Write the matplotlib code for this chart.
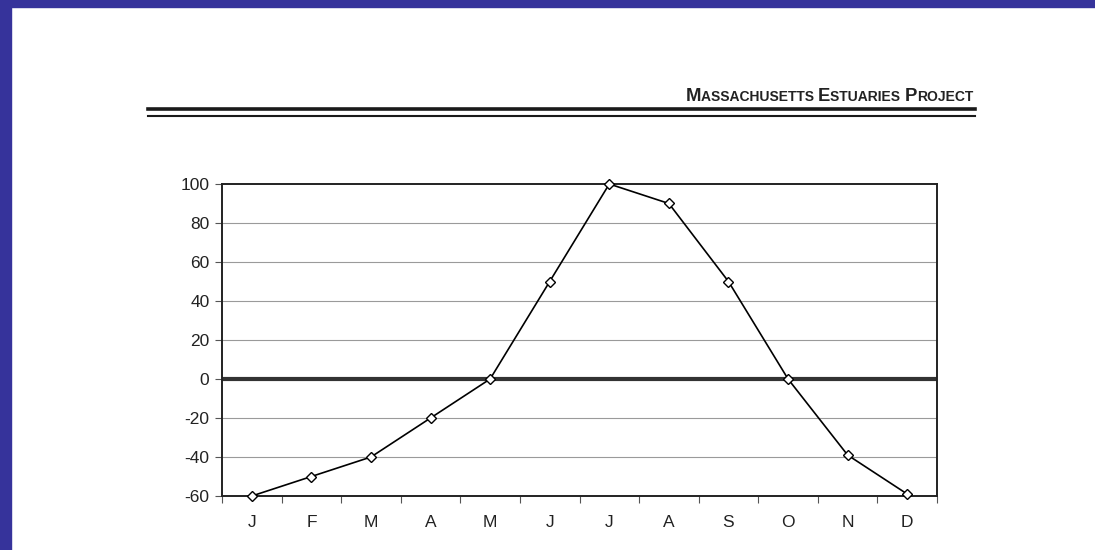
import matplotlib
matplotlib.use("Agg")
from matplotlib import pyplot as plt
from matplotlib.patches import Rectangle
from matplotlib.lines import Line2D
import numpy as np

months = ['J', 'F', 'M', 'A', 'M', 'J', 'J', 'A', 'S', 'O', 'N', 'D']
values = [-60, -50, -40, -20, 0, 50, 100, 90, 50, 0, -39, -59]
yticks = [-60, -40, -20, 0, 20, 40, 60, 80, 100]
header = [('M', 13.3), ('ASSACHUSETTS ', 10), ('E', 13.3), ('STUARIES ', 10), ('P', 13.3), ('ROJECT', 10)]

W, H = 1095, 550
fig = plt.figure(figsize=(W / 100, H / 100), dpi=100)
fig.patch.set_facecolor('white')

# blue border of the scan
fig.add_artist(Rectangle((0, 0), 11 / W, 1, transform=fig.transFigure, color='#36339b', zorder=10))
fig.add_artist(Rectangle((0, 1 - 7 / H), 1, 7 / H, transform=fig.transFigure, color='#36339b', zorder=10))

# header rules
fig.add_artist(Line2D([148 / W, 975 / W], [1 - 108.5 / H] * 2, transform=fig.transFigure, color='#1a1a1a', lw=2.6))
fig.add_artist(Line2D([148 / W, 975 / W], [1 - 116 / H] * 2, transform=fig.transFigure, color='#1a1a1a', lw=1.5))

# header text in small caps, built right to left
r = fig.canvas.get_renderer()
x = 973 / W
for txt, fs in reversed(header):
    t = fig.text(x, 1 - 101 / H, txt, fontsize=fs, fontweight='bold', family='Liberation Sans',
                 ha='right', va='baseline', color='#222222')
    bb = t.get_window_extent(r)
    x = bb.x0 / W

ax = fig.add_axes([222 / W, 1 - 496 / H, 715 / W, 312 / H])
xs = np.arange(len(months)) + 0.5

ax.set_xlim(0, 12)
ax.set_ylim(-60, 100)
ax.set_yticks(yticks)
ax.set_yticklabels([str(v) for v in yticks], fontsize=12.5, family='Liberation Sans', color='#222222')
ax.set_xticks(xs)
ax.set_xticklabels(months, fontsize=12.5, family='Liberation Sans', color='#222222')
ax.set_xticks(np.arange(13), minor=True)
ax.tick_params(axis='x', which='major', length=0, pad=14)
ax.tick_params(axis='x', which='minor', length=5, width=0.8, color='#555555', direction='out')
ax.tick_params(axis='y', length=5, width=0.8, color='#555555', pad=4)

for v in yticks[1:-1]:
    if v == 0:
        continue
    ax.axhline(v, color='#9a9a9a', lw=0.8, zorder=1)
ax.axhline(0, color='#333333', lw=3, zorder=2)

ax.plot(xs, values, color='black', lw=1.2, marker='D', markersize=5,
        markerfacecolor='white', markeredgecolor='black', markeredgewidth=1, zorder=3, clip_on=False)

for s in ax.spines.values():
    s.set_color('#222222')
    s.set_linewidth(1.4)

fig.savefig('out.png', dpi=100)
